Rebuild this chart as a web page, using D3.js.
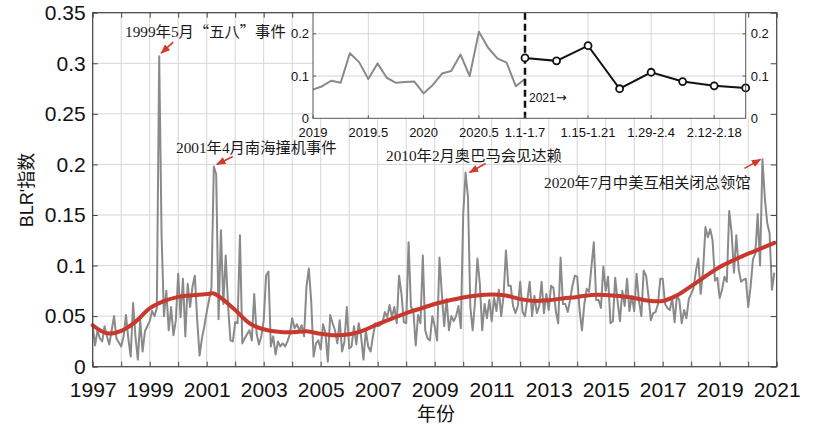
<!DOCTYPE html>
<html>
<head>
<meta charset="utf-8">
<script src="https://cdn.jsdelivr.net/npm/d3@7"></script>
<style>
  body { margin: 0; background: #fff; }
  svg { display: block; }
</style>
</head>
<body>
<svg id="chart" width="832" height="430"></svg>
<script>
// ---------------- dati mensili BLR (gen 1997 - dic 2020) ----------------
const y1997 = [0.040, 0.021, 0.036, 0.028, 0.025, 0.040, 0.030, 0.022, 0.036, 0.050, 0.028, 0.024];
const y1998 = [0.020, 0.030, 0.051, 0.028, 0.010, 0.063, 0.030, 0.007, 0.046, 0.015, 0.035, 0.040];
const y1999 = [0.045, 0.055, 0.050, 0.058, 0.307, 0.130, 0.050, 0.075, 0.036, 0.059, 0.031, 0.046];
const y2000 = [0.092, 0.049, 0.087, 0.030, 0.082, 0.059, 0.079, 0.090, 0.046, 0.011, 0.028, 0.040];
const y2001 = [0.054, 0.066, 0.078, 0.198, 0.190, 0.047, 0.135, 0.062, 0.110, 0.060, 0.026, 0.025];
const y2002 = [0.044, 0.043, 0.130, 0.023, 0.028, 0.032, 0.036, 0.026, 0.072, 0.033, 0.022, 0.030];
const y2003 = [0.046, 0.090, 0.094, 0.020, 0.030, 0.012, 0.025, 0.020, 0.023, 0.020, 0.025, 0.032];
const y2004 = [0.048, 0.038, 0.042, 0.036, 0.041, 0.030, 0.079, 0.097, 0.065, 0.010, 0.023, 0.026];
const y2005 = [0.017, 0.042, 0.033, 0.005, 0.051, 0.043, 0.036, 0.023, 0.046, 0.015, 0.025, 0.059];
const y2006 = [0.018, 0.020, 0.040, 0.022, 0.043, 0.030, 0.007, 0.036, 0.020, 0.015, 0.030, 0.043];
const y2007 = [0.040, 0.041, 0.043, 0.054, 0.049, 0.061, 0.049, 0.059, 0.043, 0.090, 0.072, 0.044];
const y2008 = [0.043, 0.123, 0.059, 0.056, 0.021, 0.051, 0.043, 0.110, 0.036, 0.028, 0.026, 0.050];
const y2009 = [0.040, 0.026, 0.108, 0.072, 0.040, 0.067, 0.036, 0.050, 0.045, 0.050, 0.060, 0.038];
const y2010 = [0.150, 0.192, 0.168, 0.059, 0.036, 0.065, 0.107, 0.082, 0.036, 0.062, 0.048, 0.066];
const y2011 = [0.045, 0.068, 0.055, 0.076, 0.050, 0.070, 0.115, 0.080, 0.080, 0.060, 0.053, 0.060];
const y2012 = [0.084, 0.054, 0.050, 0.066, 0.084, 0.050, 0.070, 0.053, 0.060, 0.084, 0.053, 0.072];
const y2013 = [0.056, 0.080, 0.078, 0.055, 0.043, 0.108, 0.062, 0.062, 0.054, 0.066, 0.080, 0.090];
const y2014 = [0.089, 0.056, 0.036, 0.062, 0.077, 0.074, 0.099, 0.123, 0.066, 0.066, 0.058, 0.099];
const y2015 = [0.075, 0.089, 0.043, 0.045, 0.088, 0.065, 0.045, 0.075, 0.060, 0.087, 0.055, 0.070];
const y2016 = [0.055, 0.092, 0.065, 0.050, 0.095, 0.090, 0.070, 0.046, 0.053, 0.054, 0.062, 0.087];
const y2017 = [0.087, 0.062, 0.058, 0.056, 0.068, 0.044, 0.070, 0.066, 0.043, 0.056, 0.048, 0.067];
const y2018 = [0.072, 0.078, 0.095, 0.107, 0.072, 0.095, 0.138, 0.128, 0.136, 0.125, 0.085, 0.088];
const y2019 = [0.068, 0.076, 0.089, 0.084, 0.154, 0.133, 0.093, 0.130, 0.096, 0.084, 0.086, 0.087];
const y2020 = [0.059, 0.079, 0.106, 0.112, 0.151, 0.100, 0.205, 0.167, 0.142, 0.132, 0.076, 0.093];

const blr = [].concat(y1997, y1998, y1999, y2000, y2001, y2002, y2003, y2004, y2005, y2006,
  y2007, y2008, y2009, y2010, y2011, y2012, y2013, y2014, y2015, y2016, y2017, y2018, y2019, y2020);

// curva di tendenza (rossa)
const trendYears  = [1997, 1997.5, 1998, 1998.5, 1999, 1999.5, 2000, 2000.5, 2001, 2001.25, 2001.5, 2002, 2002.5,
  2003, 2003.5, 2004, 2004.5, 2005, 2005.5, 2006, 2006.5, 2007, 2007.5, 2008, 2008.5, 2009, 2009.5,
  2010, 2010.5, 2011, 2011.5, 2012, 2012.5, 2013, 2013.5, 2014, 2014.5, 2015, 2015.5, 2016, 2016.5,
  2017, 2017.5, 2018, 2018.5, 2019, 2019.5, 2020, 2020.5, 2020.92];
const trendValues = [0.041, 0.033, 0.0355, 0.0444, 0.0576, 0.0648, 0.069, 0.0707, 0.0718, 0.0724, 0.068, 0.056, 0.043,
  0.037, 0.0345, 0.034, 0.035, 0.0325, 0.031, 0.032, 0.036, 0.042, 0.0475, 0.053, 0.0575, 0.062, 0.0655,
  0.0685, 0.0705, 0.0714, 0.0704, 0.0668, 0.065, 0.0658, 0.0675, 0.069, 0.071, 0.071, 0.0698, 0.068, 0.0652,
  0.065, 0.0705, 0.0796, 0.0894, 0.0986, 0.1055, 0.1118, 0.1175, 0.1225];

// tick
const yTicks = [0, 0.05, 0.1, 0.15, 0.2, 0.25, 0.3, 0.35];
const years = d3.range(1997, 2022);

// eventi
const eventTexts  = ["1999年5月“五八”事件", "2001年4月南海撞机事件", "2010年2月奥巴马会见达赖", "2020年7月中美互相关闭总领馆"];
const eventMonths = [28, 51, 157, 282]; // indice del mese nella serie

// riquadro 2021 (settimanale)
const weekLabels = ["1.1-1.7", "1.8-1.14", "1.15-1.21", "1.22-1.28", "1.29-2.4", "2.5-2.11", "2.12-2.18", "2.19-2.25"];
const weekValues = [0.143, 0.136, 0.172, 0.070, 0.109, 0.087, 0.077, 0.072];
const insetYearTicks = [2019, 2019.5, 2020, 2020.5];
const insetYTicks = [0, 0.1, 0.2];

// ---------------- layout ----------------
const M = {left: 92.7, right: 776.7, top: 12.7, bottom: 366.7};
const svg = d3.select("#chart");
const sansFont = "'Liberation Sans', Arial, sans-serif";
const cjkFont = "'Noto Sans CJK SC', sans-serif";

const x = d3.scaleLinear().domain([1997, 2021]).range([M.left, M.right]);
const y = d3.scaleLinear().domain([0, 0.35]).range([M.bottom, M.top]);

const series = blr.map((v, i) => ({t: 1997 + i / 12, v: v}));
const trend = trendYears.map((t, i) => ({t: t, v: trendValues[i]}));

// griglia
const grid = svg.append("g").attr("stroke", "#d6d6d6").attr("stroke-width", 1);
grid.selectAll("line.gv").data(years).join("line").attr("class", "gv")
  .attr("x1", d => x(d)).attr("x2", d => x(d)).attr("y1", M.top).attr("y2", M.bottom);
grid.selectAll("line.gh").data(yTicks).join("line").attr("class", "gh")
  .attr("x1", M.left).attr("x2", M.right).attr("y1", d => y(d)).attr("y2", d => y(d));

// linee
const line = d3.line().x(d => x(d.t)).y(d => y(d.v));
svg.append("path").datum(series)
  .attr("d", line)
  .attr("fill", "none").attr("stroke", "#8a8a8a").attr("stroke-width", 2).attr("stroke-linejoin", "round");

const trendLine = d3.line().x(d => x(d.t)).y(d => y(d.v)).curve(d3.curveCatmullRom);
svg.append("path").datum(trend)
  .attr("d", trendLine)
  .attr("fill", "none").attr("stroke", "#c9382c").attr("stroke-width", 4).attr("stroke-linecap", "round");

// annotazioni
svg.append("defs").append("marker")
  .attr("id", "arrow").attr("viewBox", "0 0 10 10").attr("refX", 9).attr("refY", 5)
  .attr("markerWidth", 6).attr("markerHeight", 6).attr("orient", "auto-start-reverse")
  .append("path").attr("d", "M0,1 L10,5 L0,9 z").attr("fill", "#d43a2a");

const labelPos = [[125, 37], [176, 153], [386, 161], [544, 188]];
const arrowOff = [[2, -3, 12, -11], [3, -2, 16, -8], [4, 0, 16, -9], [-2, 0, -16, 9]];

eventTexts.forEach((txt, i) => {
  const px = x(series[eventMonths[i]].t), py = y(series[eventMonths[i]].v);
  const hx = px + arrowOff[i][0], hy = py + arrowOff[i][1];
  svg.append("line")
    .attr("x1", hx + arrowOff[i][2]).attr("y1", hy + arrowOff[i][3])
    .attr("x2", hx).attr("y2", hy)
    .attr("stroke", "#d43a2a").attr("stroke-width", 1.6).attr("marker-end", "url(#arrow)");

  const t = svg.append("text")
    .attr("x", labelPos[i][0]).attr("y", labelPos[i][1])
    .attr("font-family", "'Liberation Serif', 'Times New Roman', 'Noto Sans CJK SC', serif")
    .attr("font-size", 15.3).attr("fill", "#1a1a1a");
  // le virgolette cinesi vanno a larghezza piena
  txt.split(/([“”])/).forEach(part => {
    if (!part) return;
    const sp = t.append("tspan").text(part);
    if (part === "“" || part === "”") {
      sp.attr("font-family", cjkFont).style("font-feature-settings", "'fwid'");
    }
  });
});

// fondo bianco del riquadro
svg.append("rect").attr("x", 313).attr("y", M.top).attr("width", M.right - 313).attr("height", 118.3 - M.top)
  .attr("fill", "#fff");

// assi principali
function styleAxis(g) {
  g.select(".domain").remove();
  g.selectAll(".tick line").attr("stroke", "#444");
  g.selectAll("text").attr("font-family", sansFont).attr("font-size", 21).attr("fill", "#111");
}
svg.append("g").attr("transform", `translate(0,${M.bottom})`)
  .call(d3.axisBottom(x).tickValues(years).tickSize(-5).tickSizeOuter(0).tickPadding(15)
    .tickFormat(d => d % 2 ? String(d) : ""))
  .call(styleAxis);
svg.append("g").attr("transform", `translate(0,${M.top})`)
  .call(d3.axisTop(x).tickValues(years).tickSize(-5).tickSizeOuter(0).tickFormat(""))
  .call(styleAxis);
svg.append("g").attr("transform", `translate(${M.left},0)`)
  .call(d3.axisLeft(y).tickValues(yTicks).tickSize(-5).tickSizeOuter(0).tickPadding(7)
    .tickFormat(d => String(+d.toFixed(2))))
  .call(styleAxis);
svg.append("g").attr("transform", `translate(${M.right},0)`)
  .call(d3.axisRight(y).tickValues(yTicks).tickSize(-6).tickSizeOuter(0).tickFormat(""))
  .call(styleAxis);
svg.append("rect").attr("x", M.left).attr("y", M.top)
  .attr("width", M.right - M.left).attr("height", M.bottom - M.top)
  .attr("fill", "none").attr("stroke", "#444").attr("stroke-width", 1.2);

// titoli assi
svg.append("text").attr("x", 436).attr("y", 421).attr("text-anchor", "middle")
  .attr("font-family", cjkFont).attr("font-size", 19).attr("fill", "#111").text("年份");
svg.append("text").attr("transform", "translate(33,190) rotate(-90)").attr("text-anchor", "middle")
  .attr("font-family", sansFont + ", 'Noto Sans CJK SC'").attr("font-size", 18).attr("fill", "#111")
  .text("BLR'指数");

// ---------------- riquadro ----------------
const ix0 = 313, ix1 = 745.7, iy0 = M.top, iy1 = 118.3, iSplit = 525;
const iy = d3.scaleLinear().domain([0, 0.25]).range([iy1, iy0]);
const ixM = d3.scaleLinear().domain([2019, 2020 + 11 / 12]).range([ix0, iSplit]);
const ixW = d3.scaleLinear().domain([0, weekValues.length - 1]).range([iSplit, ix1]);

const inset = svg.append("g");
inset.append("rect").attr("x", ix0).attr("y", iy0).attr("width", ix1 - ix0).attr("height", iy1 - iy0).attr("fill", "#fff");

const insetMonths = series.slice(-24);
const weekShown = [0, 2, 4, 6];
const vGrid = insetYearTicks.slice(1).map(d => ixM(d)).concat(weekShown.slice(1).map(i => ixW(i)));
inset.selectAll("line.ivg").data(vGrid).join("line").attr("class", "ivg")
  .attr("x1", d => d).attr("x2", d => d).attr("y1", iy0).attr("y2", iy1)
  .attr("stroke", "#d6d6d6");
inset.selectAll("line.ihg").data(insetYTicks.slice(1)).join("line").attr("class", "ihg")
  .attr("x1", ix0).attr("x2", ix1).attr("y1", d => iy(d)).attr("y2", d => iy(d))
  .attr("stroke", "#d6d6d6");

inset.append("path").datum(insetMonths)
  .attr("d", d3.line().x(d => ixM(d.t)).y(d => iy(d.v)))
  .attr("fill", "none").attr("stroke", "#8a8a8a").attr("stroke-width", 2).attr("stroke-linejoin", "round");

inset.append("line").attr("x1", iSplit).attr("x2", iSplit).attr("y1", iy0).attr("y2", iy1)
  .attr("stroke", "#111").attr("stroke-width", 2.5).attr("stroke-dasharray", "7,4");

inset.append("path").datum(weekValues)
  .attr("d", d3.line().x((d, i) => ixW(i)).y(d => iy(d)))
  .attr("fill", "none").attr("stroke", "#111").attr("stroke-width", 2);
inset.selectAll("circle").data(weekValues).join("circle")
  .attr("cx", (d, i) => ixW(i)).attr("cy", d => iy(d)).attr("r", 3.5)
  .attr("fill", "#fff").attr("stroke", "#111").attr("stroke-width", 1.8);

const lab2021 = inset.append("text").attr("x", iSplit + 4).attr("y", 102)
  .attr("font-family", sansFont).attr("font-size", 12).attr("fill", "#111");
lab2021.append("tspan").text("2021");
lab2021.append("tspan").attr("font-family", "'DejaVu Sans', sans-serif").attr("font-size", 13).text("→");

inset.append("rect").attr("x", ix0).attr("y", iy0).attr("width", ix1 - ix0).attr("height", iy1 - iy0)
  .attr("fill", "none").attr("stroke", "#555").attr("stroke-width", 1);

// assi del riquadro
const bottomTicks = insetYearTicks.map(d => ({pos: ixM(d), label: String(d)}))
  .concat(weekShown.map(i => ({pos: ixW(i), label: weekLabels[i]})));
inset.selectAll("line.ibt").data(bottomTicks).join("line").attr("class", "ibt")
  .attr("x1", d => d.pos).attr("x2", d => d.pos).attr("y1", iy1).attr("y2", iy1 - 3)
  .attr("stroke", "#555");
inset.selectAll("text.ibl").data(bottomTicks).join("text").attr("class", "ibl")
  .attr("x", d => d.pos).attr("y", 137).attr("text-anchor", "middle")
  .attr("font-family", sansFont).attr("font-size", 13).attr("fill", "#111").text(d => d.label);

inset.selectAll("text.ill").data(insetYTicks).join("text").attr("class", "ill")
  .attr("x", ix0 - 4).attr("y", d => iy(d)).attr("dy", "0.35em").attr("text-anchor", "end")
  .attr("font-family", sansFont).attr("font-size", 13).attr("fill", "#111").text(d => String(d));
inset.selectAll("text.irl").data(insetYTicks).join("text").attr("class", "irl")
  .attr("x", ix1 + 5).attr("y", d => iy(d)).attr("dy", "0.35em").attr("text-anchor", "start")
  .attr("font-family", sansFont).attr("font-size", 13).attr("fill", "#111").text(d => String(d));
inset.selectAll("line.iyt").data(insetYTicks.slice(1)).join("line").attr("class", "iyt")
  .attr("x1", ix1).attr("x2", ix1 - 3).attr("y1", d => iy(d)).attr("y2", d => iy(d))
  .attr("stroke", "#555");
inset.selectAll("line.iyl").data(insetYTicks.slice(1)).join("line").attr("class", "iyl")
  .attr("x1", ix0).attr("x2", ix0 + 3).attr("y1", d => iy(d)).attr("y2", d => iy(d))
  .attr("stroke", "#555");
</script>
</body>
</html>
